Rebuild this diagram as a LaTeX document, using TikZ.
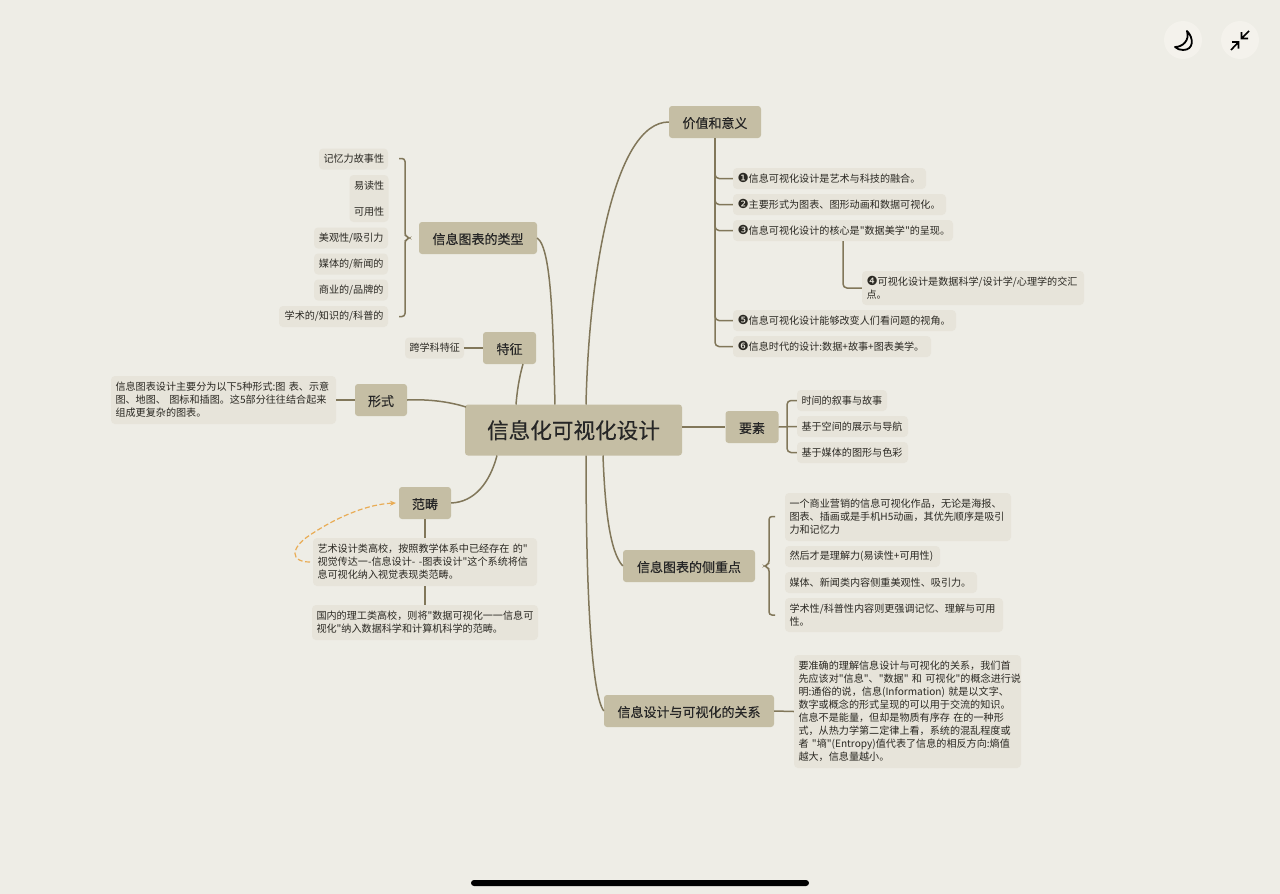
\documentclass[tikz,border=0pt]{standalone}
\usepackage{fontspec}
\newfontfamily\cjk{Noto Sans CJK SC}
\newfontfamily\cjkm[FakeBold=0.25]{Noto Sans CJK SC}
\newfontfamily\dingfont{DejaVu Sans}
\usetikzlibrary{arrows.meta,calc}
\definecolor{paper}{HTML}{EEEDE6}
\definecolor{topicfill}{HTML}{C5BEA4}
\definecolor{leaffill}{HTML}{E7E4DA}
\definecolor{linkcol}{HTML}{81775A}
\definecolor{inkcol}{HTML}{2A2822}
\definecolor{dashcol}{HTML}{E9AC55}
\definecolor{btnfill}{HTML}{F4F2EC}
\tikzset{>=stealth,
  topic/.style={fill=topicfill,rounded corners=3pt,text=black!85,inner sep=0pt,
    font=\cjkm\fontsize{13}{16}\selectfont,minimum height=32pt,text height=13pt,text depth=1pt},
  leaf/.style={fill=leaffill,rounded corners=4pt,text=inkcol,inner xsep=4.5pt,inner ysep=1pt,
    font=\cjk\fontsize{10.1}{13}\selectfont,align=left,minimum height=21pt},
  leafr/.style={leaf,align=right},
  link/.style={draw=linkcol,line width=1.5pt},
  elbow/.style={link,rounded corners=4pt}}
\newcommand*{\dg}[1]{{\dingfont\fontsize{12.5}{13}\selectfont #1}}

\begin{document}
\begin{tikzpicture}[x=1pt,y=-1pt]
\useasboundingbox (0,0) rectangle (1280,894);
\fill[paper] (0,0) rectangle (1280,894);
% centre
\node[topic,minimum width=217pt,minimum height=51pt,font=\cjkm\fontsize{21.6}{26}\selectfont,text height=20pt,text depth=3pt] (root) at (573.5,430) {信息化可视化设计};
% topics
\node[topic,minimum width=92pt] (value) at (715,122) {价值和意义};
\node[topic,minimum width=118pt] (types) at (478,238) {信息图表的类型};
\node[topic,minimum width=53pt] (trait) at (509.5,348) {特征};
\node[topic,minimum width=52pt] (form) at (381,400) {形式};
\node[topic,minimum width=52pt] (scope) at (425,503) {范畴};
\node[topic,minimum width=53pt] (factor) at (752,427) {要素};
\node[topic,minimum width=132pt] (focus) at (689,566) {信息图表的侧重点};
\node[topic,minimum width=170pt] (relation) at (689,711) {信息设计与可视化的关系};
% value leaves
\node[leaf,text width=184pt] (v1) at (829.5,178.5) {\dg{❶}信息可视化设计是艺术与科技的融合。};
\node[leaf,text width=204pt] (v2) at (839.5,204.5) {\dg{❷}主要形式为图表、图形动画和数据可视化。};
\node[leaf,text width=211pt] (v3) at (843,230.5) {\dg{❸}信息可视化设计的核心是"数据美学"的呈现。};
\node[leaf,text width=213pt,minimum height=34pt] (v4) at (973,288) {\dg{❹}可视化设计是数据科学/设计学/心理学的交汇\\点。};
\node[leaf,text width=214pt] (v5) at (844.5,320.5) {\dg{❺}信息可视化设计能够改变人们看问题的视角。};
\node[leaf,text width=189pt] (v6) at (832,346.5) {\dg{❻}信息时代的设计:数据+故事+图表美学。};
% type leaves
\node[leafr,text width=60pt] (t1) at (353.5,159) {记忆力故事性};
\node[leafr,text width=30pt,minimum height=47pt] (t2) at (369,198.5) {易读性\\[13pt]可用性};
\node[leafr,text width=65pt] (t4) at (351,238) {美观性/吸引力};
\node[leafr,text width=65pt] (t5) at (351,264) {媒体的/新闻的};
\node[leafr,text width=65pt] (t6) at (351,290) {商业的/品牌的};
\node[leafr,text width=100pt] (t7) at (333.5,316.5) {学术的/知识的/科普的};
% other leaves
\node[leaf,text width=50pt] (t8) at (434.5,348) {跨学科特征};
\node[leaf,text width=216pt,minimum height=48pt] (f1) at (223.5,400) {信息图表设计主要分为以下5种形式:图 表、示意\\图、地图、 图标和插图。这5部分往往结合起来\\组成更复杂的图表。};
\node[leaf,text width=215pt,minimum height=48pt] (s1) at (425,562) {艺术设计类高校，按照教学体系中已经存在 的"\\视觉传达一-信息设计- -图表设计"这个系统将信\\息可视化纳入视觉表现类范畴。};
\node[leaf,text width=217pt,minimum height=35pt] (s2) at (425,622.5) {国内的理工类高校，则将"数据可视化一一信息可\\视化"纳入数据科学和计算机科学的范畴。};
\node[leaf,text width=81pt] (e1) at (842,400.5) {时间的叙事与故事};
\node[leaf,text width=102pt] (e2) at (852.5,426.5) {基于空间的展示与导航};
\node[leaf,text width=102pt] (e3) at (852.5,452.5) {基于媒体的图形与色彩};
\node[leaf,text width=217pt,minimum height=48pt] (p1) at (898,517) {一个商业营销的信息可视化作品，无论是海报、\\图表、插画或是手机H5动画，其优先顺序是吸引\\力和记忆力};
\node[leaf,text width=146pt] (p2) at (862.5,556.5) {然后才是理解力(易读性+可用性)};
\node[leaf,text width=183pt] (p3) at (881,582.5) {媒体、新闻类内容侧重美观性、吸引力。};
\node[leaf,text width=209pt,minimum height=34pt] (p4) at (894,615) {学术性/科普性内容则更强调记忆、理解与可用\\性。};
\node[leaf,text width=218pt,minimum height=113pt] (r1) at (907.5,711.5) {要准确的理解信息设计与可视化的关系，我们首\\先应该对"信息"、"数据"~和~可视化"的概念进行说\\明:通俗的说，信息(Information)~就是以文字、\\数字或概念的形式呈现的可以用于交流的知识。\\信息不是能量，但却是物质有序存~在的一种形\\式，从热力学第二定律上看，系统的混乱程度或\\者~"墒"(Entropy)值代表了信息的相反方向:熵值\\越大，信息量越小。};
% curves out of the centre
\coordinate (rValue) at (586,404.5);
\coordinate (rTypes) at (555,404.5);
\coordinate (rTrait) at (516,404.5);
\coordinate (rForm) at (466,407);
\coordinate (rScope) at (497,455.5);
\coordinate (rFocus) at (603,455.5);
\coordinate (rRel) at (586,455.5);
\coordinate (tSouth) at (523,364);
\draw[link] (rValue) .. controls (589,270) and (615,122) .. (value.west);
\draw[link] (types.east) .. controls (552,248) and (553,330) .. (rTypes);
\draw[link] (tSouth) .. controls (519,378) and (517,392) .. (rTrait);
\draw[link] (form.east) .. controls (430,399) and (450,402) .. (rForm);
\draw[link] (scope.east) .. controls (475,502) and (490,482) .. (rScope);
\draw[link] (rFocus) .. controls (605,510) and (610,552) .. (focus.west);
\draw[link] (rRel) .. controls (586,600) and (592,695) .. (relation.west);
\draw[link] (factor.west -| root.east) -- (factor.west);
% branches
\foreach \n in {v1,v2,v3,v5,v6} \draw[elbow] (value.south) |- (\n.west);
\coordinate (vDrop) at (843,241);
\draw[elbow] (vDrop) |- (v4.west);
\draw[link] (trait.west) -- (t8.east);
\draw[link] (form.west) -- (f1.east);
\draw[link] (scope.south) -- (s1.north);
\draw[link] (s1.south) -- (s2.north);
\draw[link] (relation.east) -- (r1.west);
\coordinate (eBar) at (787,427);
\draw[elbow] (e1.west) -| (eBar) |- (e3.west);
\draw[link] (factor.east) -- (e2.west);
% braces
\coordinate (tTip) at (410,238);
\draw[link,rounded corners=3pt] (399,158.5) -- (405,158.5) -- (405,236) -- (tTip) -- (405,240) -- (405,316.5) -- (399,316.5);
\coordinate (pTip) at (764,566);
\draw[link,rounded corners=3pt] (775,516.5) -- (769,516.5) -- (769,564) -- (pTip) -- (769,568) -- (769,615) -- (775,615);
% dashed return arrow
\coordinate (sLoop) at (310,562);
\draw[dashcol,line width=1.2pt,dash pattern=on 5pt off 2.5pt,-{Stealth[length=6pt,width=5pt]}] (sLoop) .. controls (290,562) and (290,548) .. (310,535) .. controls (340,515) and (370,504) .. (396,503);
% top buttons and bar
\fill[btnfill] (1183,40) circle[radius=19];
\fill[btnfill] (1240,40) circle[radius=19];
\draw[black,line width=1.8pt,line join=round] (1187,31) .. controls (1194,38) and (1194,50) .. (1183,50) .. controls (1180,50) and (1177,49) .. (1175,47) .. controls (1182,47) and (1190,41) .. (1187,31) -- cycle;
\draw[black,line width=1.6pt] (1249,31) -- (1241.5,38.5) (1241.5,32) -- (1241.5,38.5) -- (1248,38.5);
\draw[black,line width=1.6pt] (1231,50) -- (1238.5,42) (1232,42) -- (1238.5,42) -- (1238.5,48.5);
\fill[black,rounded corners=3pt] (471,880) rectangle (809,886);
\end{tikzpicture}
\end{document}
